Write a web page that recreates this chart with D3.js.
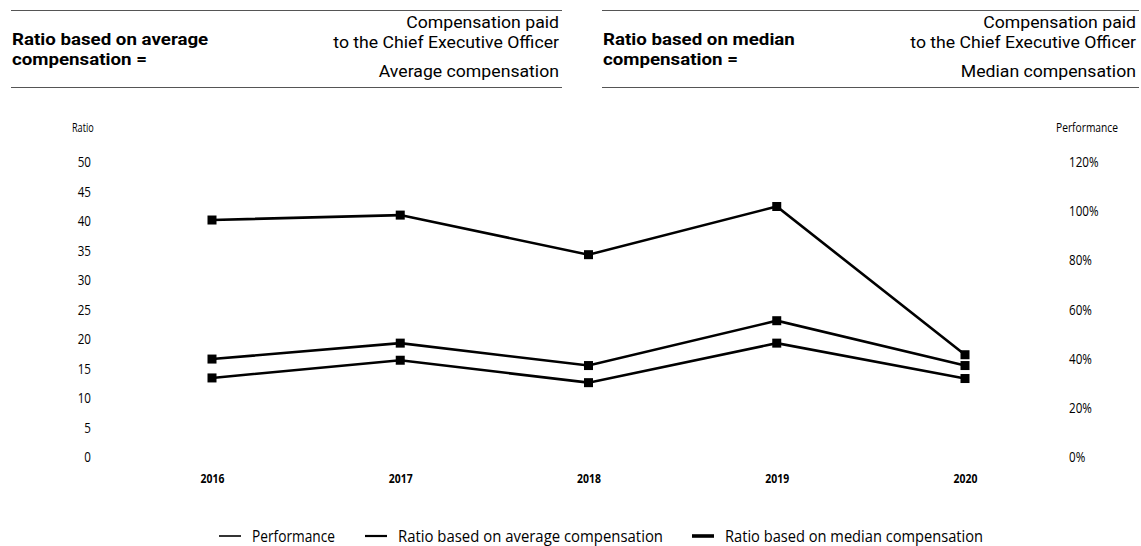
<!DOCTYPE html>
<html>
<head>
<meta charset="utf-8">
<script src="https://cdn.jsdelivr.net/npm/d3@7"></script>
<style>
  html, body { margin: 0; padding: 0; background: #fff; }
  svg { display: block; }
  .hdr { font-family: Roboto, "Open Sans", sans-serif; fill: #000; }
  .cond { font-family: "Open Sans", "Noto Sans", sans-serif; fill: #000; }
</style>
</head>
<body>
<svg id="chart" width="1141" height="546"></svg>
<script>
// Years and series
const years = ["2016", "2017", "2018", "2019", "2020"];
const performance = [0.964, 0.984, 0.823, 1.019, 0.416];
const ratioAverage = [13.4, 16.4, 12.6, 19.3, 13.3];
const ratioMedian = [16.6, 19.3, 15.5, 23.1, 15.5];

const ratioTicks = [0, 5, 10, 15, 20, 25, 30, 35, 40, 45, 50];
const perfTicks = [0, 0.2, 0.4, 0.6, 0.8, 1.0, 1.2];

const legendItems = [
  { label: "Performance", width: 1.6 },
  { label: "Ratio based on average compensation", width: 2.2 },
  { label: "Ratio based on median compensation", width: 3.6 }
];

const svg = d3.select("#chart");

// Squeeze or widen a text horizontally by a factor
function condense(sel, factor) {
  sel.each(function () {
    const w = this.getComputedTextLength();
    d3.select(this).attr("textLength", w * factor).attr("lengthAdjust", "spacingAndGlyphs");
  });
}

// ---- Formula header ----
const hdrLineSpec = [
  { y: 45, size: 17, weight: 700, anchor: "start" },
  { y: 65, size: 17, weight: 700, anchor: "start" },
  { y: 28, size: 16.5, weight: 400, anchor: "end" },
  { y: 47.5, size: 16.5, weight: 400, anchor: "end" },
  { y: 77, size: 16.5, weight: 400, anchor: "end" }
];
function header(x0, x1, lines) {
  const g = svg.append("g");
  [10.5, 87.5].forEach(y => {
    g.append("line").attr("x1", x0).attr("x2", x1).attr("y1", y).attr("y2", y)
      .attr("stroke", "#555").attr("stroke-width", 1);
  });
  lines.forEach((t, i) => {
    const s = hdrLineSpec[i];
    g.append("text").attr("class", "hdr")
      .attr("x", s.anchor === "start" ? x0 + 1 : x1 - 3).attr("y", s.y)
      .attr("text-anchor", s.anchor).attr("font-size", s.size)
      .attr("font-weight", s.weight).text(t)
      .call(condense, s.weight === 700 ? 1.1 : 1.07);
  });
}
header(11, 562, ["Ratio based on average", "compensation =", "Compensation paid",
  "to the Chief Executive Officer", "Average compensation"]);
header(602, 1139, ["Ratio based on median", "compensation =", "Compensation paid",
  "to the Chief Executive Officer", "Median compensation"]);

// ---- Scales ----
const x = d3.scalePoint().domain(years).range([212, 965]);
const yRatio = d3.scaleLinear().domain([0, 50]).range([457, 162]);
const yPerf = d3.scaleLinear().domain([0, 1.2]).range([457, 162]);

// Left axis (ratio), labels only
const leftAxis = d3.axisLeft(yRatio).tickValues(ratioTicks).tickSize(0).tickPadding(0);
const gl = svg.append("g").attr("transform", "translate(91,0)").call(leftAxis);
gl.select(".domain").remove();
gl.selectAll("text").attr("class", "cond").attr("font-size", 14.5)
  .attr("font-family", null).call(condense, 0.8);

svg.append("text").attr("class", "cond").attr("x", 72).attr("y", 132)
  .attr("font-size", 13).text("Ratio").call(condense, 0.7);

// Right axis (performance), labels only
const rightAxis = d3.axisRight(yPerf).tickValues(perfTicks).tickSize(0).tickPadding(0)
  .tickFormat(d3.format(".0%"));
const gr = svg.append("g").attr("transform", "translate(1069,0)").call(rightAxis);
gr.select(".domain").remove();
gr.selectAll("text").attr("class", "cond").attr("font-size", 14.5)
  .attr("font-family", null).call(condense, 0.8);

svg.append("text").attr("class", "cond").attr("x", 1056).attr("y", 132)
  .attr("font-size", 13).attr("textLength", 62).attr("lengthAdjust", "spacingAndGlyphs")
  .text("Performance");

// Bottom axis (years)
const bottomAxis = d3.axisBottom(x).tickSize(0).tickPadding(0);
const gb = svg.append("g").attr("transform", "translate(0,474)").call(bottomAxis);
gb.select(".domain").remove();
gb.selectAll("text").attr("class", "cond").attr("font-size", 13)
  .attr("font-weight", 700).attr("font-family", null).call(condense, 0.8);

// ---- Lines with square markers ----
function series(values, yScale) {
  const pts = years.map((yr, i) => [x(yr), yScale(values[i])]);
  svg.append("path").attr("d", d3.line()(pts))
    .attr("fill", "none").attr("stroke", "#000").attr("stroke-width", 2.6)
    .attr("stroke-linejoin", "miter");
  svg.append("g").selectAll("rect").data(pts).join("rect")
    .attr("x", d => d[0] - 4.5).attr("y", d => d[1] - 4.5)
    .attr("width", 9).attr("height", 9).attr("fill", "#000");
}
series(performance, yPerf);
series(ratioMedian, yRatio);
series(ratioAverage, yRatio);

// ---- Legend ----
const legendX = [219, 365, 692];
const legendTextW = [83, 265, 258];
const lg = svg.append("g");
legendItems.forEach((d, i) => {
  lg.append("line").attr("x1", legendX[i]).attr("x2", legendX[i] + 22)
    .attr("y1", 536).attr("y2", 536).attr("stroke", "#000").attr("stroke-width", d.width);
  lg.append("text").attr("class", "cond").attr("x", legendX[i] + 33).attr("y", 541.5)
    .attr("font-size", 17).attr("textLength", legendTextW[i])
    .attr("lengthAdjust", "spacingAndGlyphs").text(d.label);
});
</script>
</body>
</html>
